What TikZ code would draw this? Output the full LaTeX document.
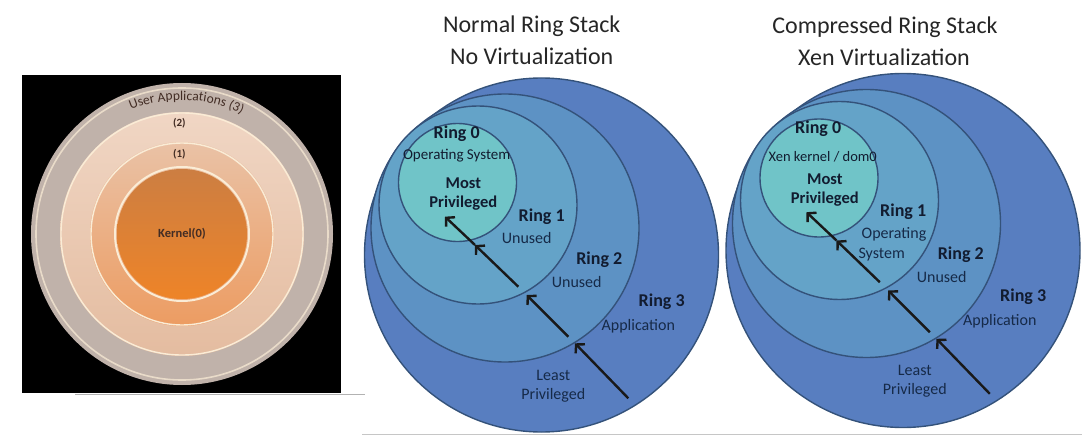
\documentclass[tikz,border=0pt]{standalone}
\usepackage{fontspec}
\setmainfont{Carlito}
\definecolor{ringThree}{RGB}{88,126,192}
\definecolor{ringTwo}{RGB}{93,146,196}
\definecolor{ringOne}{RGB}{100,163,200}
\definecolor{ringZero}{RGB}{112,196,200}
\definecolor{ringEdge}{RGB}{52,82,122}
\definecolor{labelNavy}{RGB}{18,28,48}
\definecolor{labelBlue}{RGB}{22,42,72}
\definecolor{bandThree}{RGB}{192,178,170}
\definecolor{bandTwoTop}{RGB}{240,214,196}
\definecolor{bandTwoBot}{RGB}{228,188,160}
\definecolor{bandOneTop}{RGB}{234,194,166}
\definecolor{bandOneBot}{RGB}{236,156,98}
\definecolor{kernelTop}{RGB}{204,126,66}
\definecolor{kernelBot}{RGB}{238,132,40}
\definecolor{glowCream}{RGB}{250,236,214}
\definecolor{bandText}{RGB}{66,44,36}
\usepackage{tikz}
\usetikzlibrary{arrows.meta,decorations.text}

% one ring stack, #1 = name prefix
\newcommand{\ringstack}[1]{%
  \fill[ringThree] (541.5,255) circle (177pt);
  \draw[ringline] (541.5,255) circle (177pt);
  \fill[ringTwo] (505,228) circle (134pt);
  \draw[ringline] (505,228) circle (134pt);
  \fill[ringOne] (478,205) circle (99pt);
  \draw[ringline] (478,205) circle (99pt);
  \fill[ringZero] (457.5,182.5) circle (59pt);
  \draw[ringline] (457.5,182.5) circle (59pt);
  % privilege path
  \coordinate (#1s) at (628.3,398.3);
  \coordinate (#1t3) at (575,343.3);
  \coordinate (#1s2) at (568.3,336.7);
  \coordinate (#1t2) at (526.7,295);
  \coordinate (#1s1) at (518.3,286.7);
  \coordinate (#1t1) at (475,245);
  \coordinate (#1t0) at (445,216.7);
  \draw[climb] (#1s) -- (#1t3);
  \draw[climb] (#1s2) -- (#1t2);
  \draw[climb] (#1s1) -- (#1t1);
  \draw[climb] (#1t1) -- (#1t0);
}

\begin{document}
\begin{tikzpicture}[x=1pt,y=-1pt,
    ringline/.style={draw=ringEdge,line width=1.4pt},
    climb/.style={-{Straight Barb[length=6pt,width=13pt]},line width=2.4pt,black!90},
    title/.style={font=\fontsize{24}{28}\selectfont,text=black!85},
    ringlbl/.style={font=\fontsize{18}{21}\selectfont\bfseries,text=labelNavy},
    boldlbl/.style={font=\fontsize{16.5}{19}\selectfont\bfseries,text=labelNavy},
    plainlbl/.style={font=\fontsize{16}{19}\selectfont,text=labelBlue},
    bandlbl/.style={font=\fontsize{11}{13}\selectfont\bfseries,text=bandText}]
  \useasboundingbox (0,0) rectangle (1082,436);

  % left: classic protection rings
  \fill[black] (22,75) rectangle (341,393.3);
  \fill[bandThree] (182,234) circle (151pt);
  \draw[glowCream!70!bandThree,line width=1.6pt] (182,234) circle (146pt);
  \shade[top color=bandTwoTop,bottom color=bandTwoBot] (182,234) circle (122pt);
  \draw[glowCream,line width=1.4pt] (182,234) circle (121pt);
  \shade[top color=bandOneTop,bottom color=bandOneBot] (182,234) circle (92pt);
  \draw[glowCream,line width=1.4pt] (182,234) circle (91pt);
  \draw[glowCream,line width=2pt] (182,234) circle (67pt);
  \shade[top color=kernelTop,bottom color=kernelBot] (182,234) circle (65pt);
  \path[decorate,decoration={text along path,text align=center,text color=bandText,
      text={|\fontsize{13.5}{15}\selectfont|User Applications (3)}}]
    (182,234) ++(132:134pt) arc[start angle=132,end angle=44,radius=134pt];
  \node[bandlbl] (lvlTwo) at (179.3,123.3) {(2)};
  \node[bandlbl] (lvlOne) at (179.3,154) {(1)};
  \node[bandlbl,font=\fontsize{12.5}{15}\selectfont\bfseries] (kernel) at (182,234.3) {Kernel(0)};
  \draw[gray!60,line width=1pt] (75,394.5) -- (365,394.5);
  \draw[gray!45,line width=1pt] (362,434.5) -- (1082,434.5);

  % middle: normal ring stack
  \ringstack{n}
  \node[title] (nTitleA) at (531.7,26.7) {Normal Ring Stack};
  \node[title] (nTitleB) at (531.7,56.7) {No Virtualization};
  \node[ringlbl] (nRing0) at (456.7,133.3) {Ring 0};
  \node[plainlbl,font=\fontsize{15}{18}\selectfont,text=labelNavy] (nOs) at (456.7,156) {Operating System};
  \node[boldlbl] (nMost) at (463.3,183.3) {Most};
  \node[boldlbl] (nPriv) at (463.3,203.3) {Privileged};
  \node[ringlbl] (nRing1) at (541.7,216.7) {Ring 1};
  \node[plainlbl] (nUnused1) at (526.7,238.3) {Unused};
  \node[ringlbl] (nRing2) at (599.3,260) {Ring 2};
  \node[plainlbl] (nUnused2) at (576.7,281.7) {Unused};
  \node[ringlbl] (nRing3) at (661.7,301.7) {Ring 3};
  \node[plainlbl] (nApp) at (638.3,326) {Application};
  \node[plainlbl] (nLeast) at (553.3,375) {Least};
  \node[plainlbl] (nLeastPriv) at (553.3,395) {Privileged};

  % right: compressed ring stack
  \begin{scope}[shift={(361.5,-4.5)}]
    \ringstack{x}
    \node[title] (xTitleA) at (523.5,31.5) {Compressed Ring Stack};
    \node[title] (xTitleB) at (522.5,61.5) {Xen Virtualization};
    \node[ringlbl] (xRing0) at (456.7,133.3) {Ring 0};
    \node[plainlbl,font=\fontsize{14.5}{18}\selectfont,text=labelNavy] (xXen) at (461.2,161.2) {Xen kernel / dom0};
    \node[boldlbl] (xMost) at (463.3,183.3) {Most};
    \node[boldlbl] (xPriv) at (463.3,203.3) {Privileged};
    \node[ringlbl] (xRing1) at (541.7,216.7) {Ring 1};
    \node[plainlbl] (xOp) at (532.5,238.8) {Operating};
    \node[plainlbl] (xSys) at (520.2,258.8) {System};
    \node[ringlbl] (xRing2) at (599.3,259.5) {Ring 2};
    \node[plainlbl] (xUnused2) at (580.2,281.2) {Unused};
    \node[ringlbl] (xRing3) at (661.7,301.7) {Ring 3};
    \node[plainlbl] (xApp) at (638.3,326) {Application};
    \node[plainlbl] (xLeast) at (553.3,375) {Least};
    \node[plainlbl] (xLeastPriv) at (553.3,395) {Privileged};
  \end{scope}
\end{tikzpicture}
\end{document}
